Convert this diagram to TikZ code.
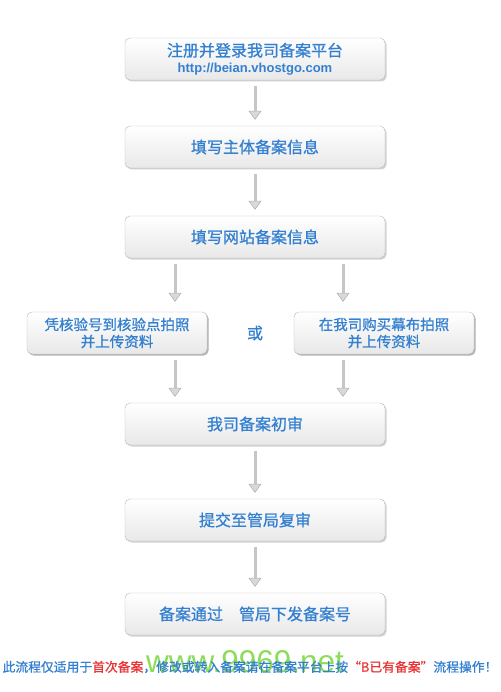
\documentclass[tikz,border=0pt]{standalone}
\usepackage{fontspec}
\newfontfamily\cjk{Noto Sans CJK SC}[BoldFont={Noto Sans CJK SC}, BoldFeatures={FakeBold=0.9}]
\setsansfont{Liberation Sans}
\usetikzlibrary{arrows.meta,shadows}

\definecolor{stepblue}{RGB}{52,128,208}
\definecolor{noteRed}{RGB}{232,52,52}
\definecolor{markgreen}{RGB}{120,214,60}

\tikzset{
  flowbox/.style={draw=gray!55, rounded corners=5pt, top color=white, bottom color=gray!18,
    drop shadow={shadow xshift=1.5pt, shadow yshift=-1.5pt, opacity=.35},
    minimum width=260pt, minimum height=42pt, align=center, text=stepblue,
    font=\cjk\bfseries\fontsize{16}{19}\selectfont},
  sidebox/.style={flowbox, minimum width=180pt, font=\cjk\bfseries\fontsize{14.5}{17}\selectfont},
  flowarrow/.style={draw=gray!45, line width=3pt, shorten <=6pt, shorten >=6pt,
    -{Triangle[width=13pt,length=9pt,fill=gray!30,color=gray!60,line width=.6pt]}},
}

\begin{document}
\begin{tikzpicture}[x=1pt,y=-1pt]
  \useasboundingbox[fill=white] (0,0) rectangle (500,692);

  \coordinate (colL) at (175,0);
  \coordinate (colR) at (343,0);

  \begin{scope}[every node/.style={flowbox}]
    \node (reg)    at (255,59)  {注册并登录我司备案平台\\[-3pt]{\sffamily\bfseries\fontsize{13}{15}\selectfont http://beian.vhostgo.com}};
    \node (owner)  at (255,147) {填写主体备案信息};
    \node (site)   at (255,237) {填写网站备案信息};
    \node[sidebox] (photoA) at (117,333) {凭核验号到核验点拍照\\并上传资料};
    \node[sidebox] (photoB) at (384,333) {在我司购买幕布拍照\\并上传资料};
    \node (check)  at (255,424) {我司备案初审};
    \node (bureau) at (255,520) {提交至管局复审};
    \node (done)   at (255,614) {备案通过\quad 管局下发备案号};
  \end{scope}

  \node[text=stepblue, font=\cjk\bfseries\fontsize{16}{19}\selectfont] (orword) at (255,333) {或};

  \begin{scope}[every edge/.style={flowarrow}]
    \path (reg)    edge (owner);
    \path (owner)  edge (site);
    \path (site.south -| colL) edge[shorten >=10pt] (colL |- photoA.north);
    \path (site.south -| colR) edge[shorten >=10pt] (colR |- photoB.north);
    \path (photoA.south -| colL) edge (colL |- check.north);
    \path (photoB.south -| colR) edge (colR |- check.north);
    \path (check)  edge (bureau);
    \path (bureau) edge (done);
  \end{scope}

  \node[text=markgreen, opacity=.85, font=\sffamily\fontsize{31.5}{34}\selectfont] (mark) at (245,662) {www.9969.net};
  \node[text=stepblue, font=\cjk\bfseries\fontsize{12.8}{15}\selectfont, inner sep=0pt] (note) at (250,667)
    {此流程仅适用于\textcolor{noteRed}{首次备案}，修改或转入备案请在备案平台上按\textcolor{noteRed}{“B已有备案”}流程操作！};
\end{tikzpicture}
\end{document}
